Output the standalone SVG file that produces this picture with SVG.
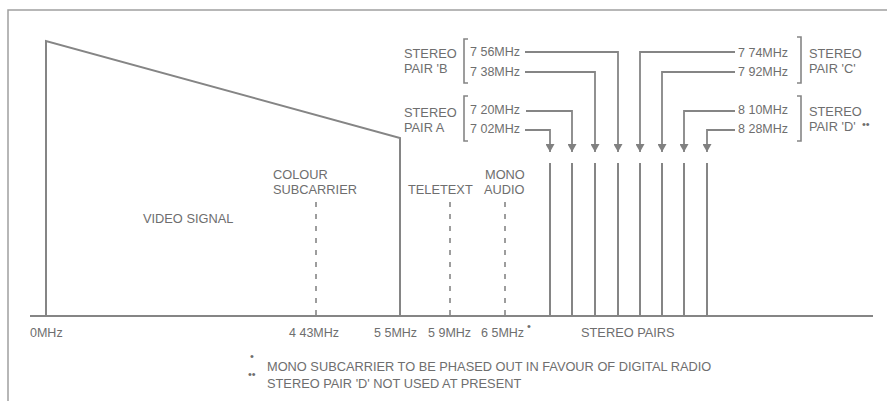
<svg xmlns="http://www.w3.org/2000/svg" width="887" height="401" viewBox="0 0 887 401">
<defs>
<marker id="arr" markerUnits="userSpaceOnUse" markerWidth="8" markerHeight="9" refX="8" refY="4.5" orient="auto">
<path d="M0,0 L8,4.5 L0,9 z" fill="#808080"/>
</marker>
<style>
text{font-family:"Liberation Sans",Arial,sans-serif;fill:#6e6e6e;font-size:12.8px}
.t{font-size:12.8px}
.f{font-size:12.5px}
.dot{font-size:11px}
.ln{fill:none;stroke:#858585;stroke-width:2}
.frame{fill:none;stroke:#a0a0a0;stroke-width:1.5}
.dash{fill:none;stroke:#858585;stroke-width:1.6;stroke-dasharray:5 7}
.br{fill:none;stroke:#858585;stroke-width:1.6}
.con{fill:none;stroke:#858585;stroke-width:1.8;marker-end:url(#arr)}
</style>
</defs>
<rect width="887" height="401" fill="#ffffff"/>
<path class="frame" d="M887,10 H8 V401"/>

<g id="axis">
<line class="ln" x1="30" y1="316" x2="873" y2="316"/>
<text x="30" y="337" class="f">0MHz</text>
<text x="289" y="337" class="f">4 43MHz</text>
<text x="374" y="337" class="f">5 5MHz</text>
<text x="428" y="337" class="f">5 9MHz</text>
<text x="481" y="337" class="f">6 5MHz</text>
<text x="527" y="330" class="dot">•</text>
<text x="581" y="337" class="t">STEREO PAIRS</text>
</g>

<g id="video-signal">
<path class="ln" d="M46,316 V41 L400,138 V316"/>
<text x="143" y="223" class="t">VIDEO SIGNAL</text>
</g>

<g id="colour-subcarrier">
<line class="dash" x1="316" y1="202" x2="316" y2="316"/>
<text x="273" y="179" class="t">COLOUR</text>
<text x="273" y="194" class="t">SUBCARRIER</text>
</g>

<g id="teletext">
<line class="dash" x1="450" y1="202" x2="450" y2="316"/>
<text x="408" y="194" class="t">TELETEXT</text>
</g>

<g id="mono-audio">
<line class="dash" x1="505" y1="202" x2="505" y2="316"/>
<text x="485" y="179" class="t">MONO</text>
<text x="484" y="194" class="t">AUDIO</text>
</g>

<g id="stereo-carriers">
<line class="ln" x1="550" y1="163" x2="550" y2="316"/>
<line class="ln" x1="572" y1="163" x2="572" y2="316"/>
<line class="ln" x1="595" y1="163" x2="595" y2="316"/>
<line class="ln" x1="618" y1="163" x2="618" y2="316"/>
<line class="ln" x1="640" y1="163" x2="640" y2="316"/>
<line class="ln" x1="662" y1="163" x2="662" y2="316"/>
<line class="ln" x1="684" y1="163" x2="684" y2="316"/>
<line class="ln" x1="707" y1="163" x2="707" y2="316"/>
</g>

<g id="pair-b">
<path class="br" d="M468,39 H464 V83 H468"/>
<text x="404" y="58" class="t">STEREO</text>
<text x="404" y="73" class="t">PAIR 'B</text>
<text x="470" y="56" class="f">7 56MHz</text>
<text x="470" y="76" class="f">7 38MHz</text>
</g>

<g id="pair-a">
<path class="br" d="M468,96 H464 V141 H468"/>
<text x="404" y="117" class="t">STEREO</text>
<text x="404" y="132" class="t">PAIR A</text>
<text x="470" y="114" class="f">7 20MHz</text>
<text x="470" y="133" class="f">7 02MHz</text>
</g>

<g id="pair-c">
<path class="br" d="M797,37 H801 V83 H797"/>
<text x="809" y="58" class="t">STEREO</text>
<text x="809" y="73" class="t">PAIR 'C'</text>
<text x="738" y="57" class="f">7 74MHz</text>
<text x="738" y="76" class="f">7 92MHz</text>
</g>

<g id="pair-d">
<path class="br" d="M797,96 H801 V141 H797"/>
<text x="809" y="116" class="t">STEREO</text>
<text x="809" y="131" class="t">PAIR 'D'</text>
<text x="862" y="128" class="dot">••</text>
<text x="738" y="114" class="f">8 10MHz</text>
<text x="738" y="133" class="f">8 28MHz</text>
</g>

<g id="connectors">
<path class="con" d="M525,52 H618 V152"/>
<path class="con" d="M525,72 H595 V152"/>
<path class="con" d="M526,111 H572 V152"/>
<path class="con" d="M525,130 H550 V152"/>
<path class="con" d="M735,52 H640 V152"/>
<path class="con" d="M735,72 H662 V152"/>
<path class="con" d="M735,111 H684 V152"/>
<path class="con" d="M735,130 H707 V152"/>
</g>

<g id="footnotes">
<text x="250" y="360" class="dot">•</text>
<text x="267" y="371" class="t">MONO SUBCARRIER  TO BE PHASED OUT IN FAVOUR OF DIGITAL RADIO</text>
<text x="248" y="378" class="dot">••</text>
<text x="267" y="388" class="t">STEREO PAIR 'D' NOT USED AT PRESENT</text>
</g>
</svg>
